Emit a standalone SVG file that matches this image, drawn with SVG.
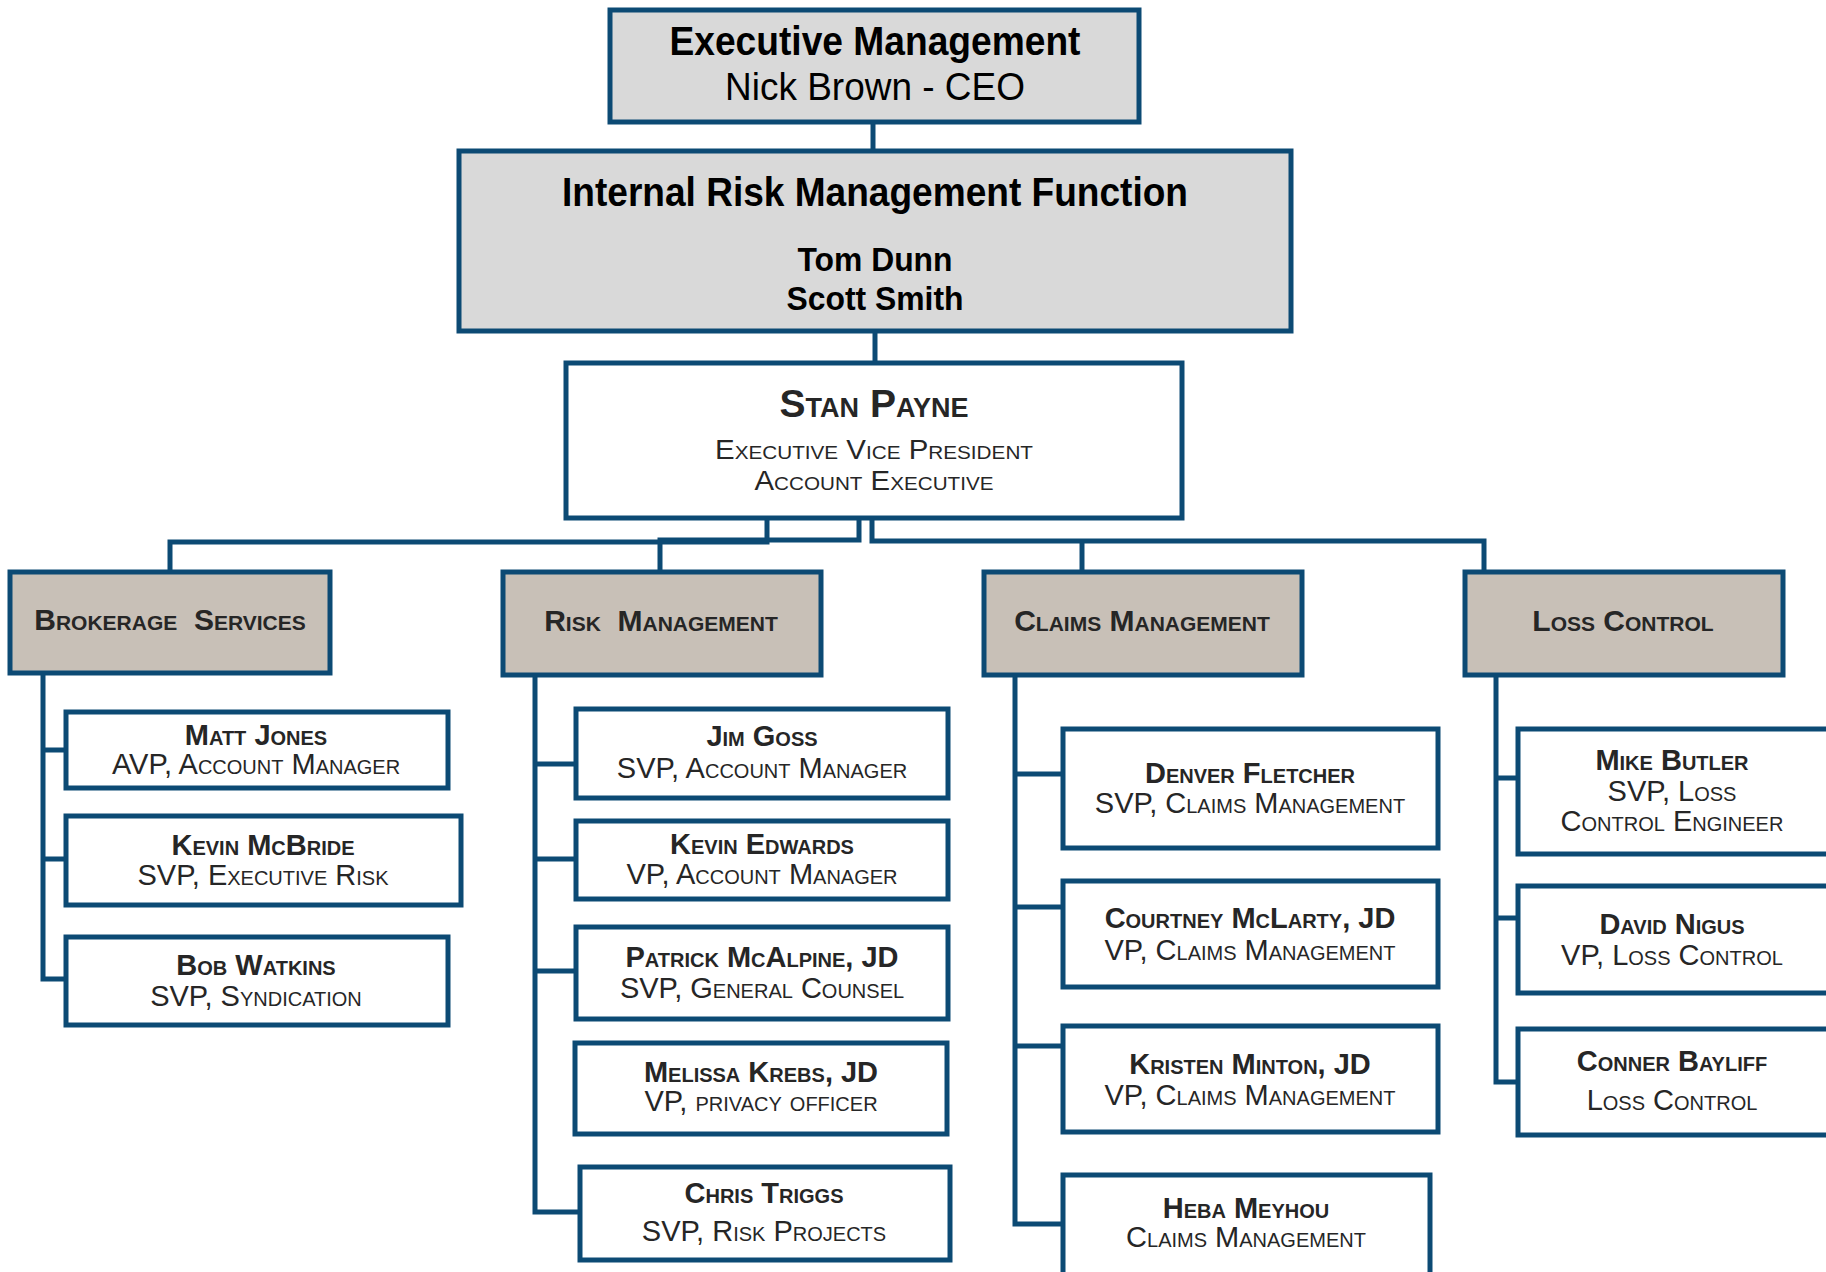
<svg xmlns="http://www.w3.org/2000/svg" width="1826" height="1272" viewBox="0 0 1826 1272">
<style>
.box{stroke:#0c4a74;stroke-width:5}
.gray{fill:#d9d9d9}
.dept{fill:#c8c0b7}
.white{fill:#ffffff}
.conn{fill:none;stroke:#0c4a74;stroke-width:5}
text{font-family:"Liberation Sans",Arial,sans-serif;fill:#262626;text-anchor:middle}
.hd{font-weight:bold;font-size:40px;fill:#000}
.sub{font-size:38px;fill:#000}
.nm2{font-weight:bold;font-size:33px;fill:#000}
.dp{font-weight:bold;font-size:30px;font-variant:small-caps;white-space:pre}
.nm{font-weight:bold;font-size:29px;font-variant:small-caps}
.ti{font-size:29px;font-variant:small-caps}
.big{font-weight:bold;font-size:39px;font-variant:small-caps}
.evp{font-size:27px;font-variant:small-caps}
</style>

<g id="connectors">
<path class="conn" d="M873,122 V150"/>
<path class="conn" d="M875,331 V362"/>
<path class="conn" d="M767,518 V542 H170 V571"/>
<path class="conn" d="M859,518 V540 H660 V571"/>
<path class="conn" d="M872,518 V541 H1484 V571"/>
<path class="conn" d="M1082,541 V571"/>
<path class="conn" d="M43,673 V979 H65 M43,750 H65 M43,859 H65"/>
<path class="conn" d="M535,675 V1212 H579 M535,764 H575 M535,859 H575 M535,971 H575"/>
<path class="conn" d="M1015,675 V1224 H1062 M1015,774 H1062 M1015,907 H1062 M1015,1046 H1062"/>
<path class="conn" d="M1496,675 V1082 H1517 M1496,778 H1517 M1496,918 H1517"/>
</g>

<g id="exec">
<rect class="box gray" x="610" y="10" width="529" height="112"/>
<text class="hd" x="875" y="55" textLength="411" lengthAdjust="spacingAndGlyphs">Executive Management</text>
<text class="sub" x="875" y="100" textLength="300" lengthAdjust="spacingAndGlyphs">Nick Brown - CEO</text>
</g>

<g id="irm">
<rect class="box gray" x="459" y="151" width="832" height="180"/>
<text class="hd" x="875" y="206" textLength="626" lengthAdjust="spacingAndGlyphs">Internal Risk Management Function</text>
<text class="nm2" x="875" y="271" textLength="155" lengthAdjust="spacingAndGlyphs">Tom Dunn</text>
<text class="nm2" x="875" y="310" textLength="177" lengthAdjust="spacingAndGlyphs">Scott Smith</text>
</g>

<g id="stan">
<rect class="box white" x="566" y="363" width="616" height="155"/>
<text class="big" x="874" y="417">Stan Payne</text>
<text class="evp" x="874" y="459" textLength="318" lengthAdjust="spacingAndGlyphs">Executive Vice President</text>
<text class="evp" x="874" y="490" textLength="239" lengthAdjust="spacingAndGlyphs">Account Executive</text>
</g>

<g id="brokerage">
<rect class="box dept" x="10" y="572" width="320" height="101"/>
<text class="dp" x="170" y="630">Brokerage  Services</text>
</g>
<g id="riskmgmt">
<rect class="box dept" x="503" y="572" width="318" height="103"/>
<text class="dp" x="661" y="631">Risk  Management</text>
</g>
<g id="claims">
<rect class="box dept" x="984" y="572" width="318" height="103"/>
<text class="dp" x="1142" y="631">Claims Management</text>
</g>
<g id="loss">
<rect class="box dept" x="1465" y="572" width="318" height="103"/>
<text class="dp" x="1623" y="631">Loss Control</text>
</g>

<g id="matt">
<rect class="box white" x="66" y="712" width="382" height="76"/>
<text class="nm" x="256" y="745">Matt Jones</text>
<text class="ti" x="256" y="774">AVP, Account Manager</text>
</g>
<g id="kevinm">
<rect class="box white" x="66" y="816" width="395" height="89"/>
<text class="nm" x="263" y="855">Kevin McBride</text>
<text class="ti" x="263" y="885">SVP, Executive Risk</text>
</g>
<g id="bob">
<rect class="box white" x="66" y="937" width="382" height="88"/>
<text class="nm" x="256" y="975">Bob Watkins</text>
<text class="ti" x="256" y="1006">SVP, Syndication</text>
</g>

<g id="jim">
<rect class="box white" x="576" y="709" width="372" height="89"/>
<text class="nm" x="762" y="746">Jim Goss</text>
<text class="ti" x="762" y="778">SVP, Account Manager</text>
</g>
<g id="kevine">
<rect class="box white" x="576" y="821" width="372" height="78"/>
<text class="nm" x="762" y="854">Kevin Edwards</text>
<text class="ti" x="762" y="884">VP, Account Manager</text>
</g>
<g id="patrick">
<rect class="box white" x="576" y="927" width="372" height="92"/>
<text class="nm" x="762" y="967">Patrick McAlpine, JD</text>
<text class="ti" x="762" y="998">SVP, General Counsel</text>
</g>
<g id="melissa">
<rect class="box white" x="575" y="1043" width="372" height="91"/>
<text class="nm" x="761" y="1082">Melissa Krebs, JD</text>
<text class="ti" x="761" y="1111">VP, privacy officer</text>
</g>
<g id="chris">
<rect class="box white" x="580" y="1167" width="370" height="93"/>
<text class="nm" x="764" y="1203">Chris Triggs</text>
<text class="ti" x="764" y="1241">SVP, Risk Projects</text>
</g>

<g id="denver">
<rect class="box white" x="1063" y="729" width="375" height="119"/>
<text class="nm" x="1250" y="783">Denver Fletcher</text>
<text class="ti" x="1250" y="813">SVP, Claims Management</text>
</g>
<g id="courtney">
<rect class="box white" x="1063" y="881" width="375" height="106"/>
<text class="nm" x="1250" y="928">Courtney McLarty, JD</text>
<text class="ti" x="1250" y="960">VP, Claims Management</text>
</g>
<g id="kristen">
<rect class="box white" x="1063" y="1026" width="375" height="106"/>
<text class="nm" x="1250" y="1074">Kristen Minton, JD</text>
<text class="ti" x="1250" y="1105">VP, Claims Management</text>
</g>
<g id="heba">
<rect class="box white" x="1063" y="1175" width="367" height="115"/>
<text class="nm" x="1246" y="1218">Heba Meyhou</text>
<text class="ti" x="1246" y="1247">Claims Management</text>
</g>

<g id="mike">
<rect class="box white" x="1518" y="729" width="330" height="125"/>
<text class="nm" x="1672" y="770">Mike Butler</text>
<text class="ti" x="1672" y="801">SVP, Loss</text>
<text class="ti" x="1672" y="831">Control Engineer</text>
</g>
<g id="david">
<rect class="box white" x="1518" y="886" width="330" height="107"/>
<text class="nm" x="1672" y="934">David Nigus</text>
<text class="ti" x="1672" y="965">VP, Loss Control</text>
</g>
<g id="conner">
<rect class="box white" x="1518" y="1029" width="330" height="106"/>
<text class="nm" x="1672" y="1071">Conner Bayliff</text>
<text class="ti" x="1672" y="1110">Loss Control</text>
</g>
</svg>
